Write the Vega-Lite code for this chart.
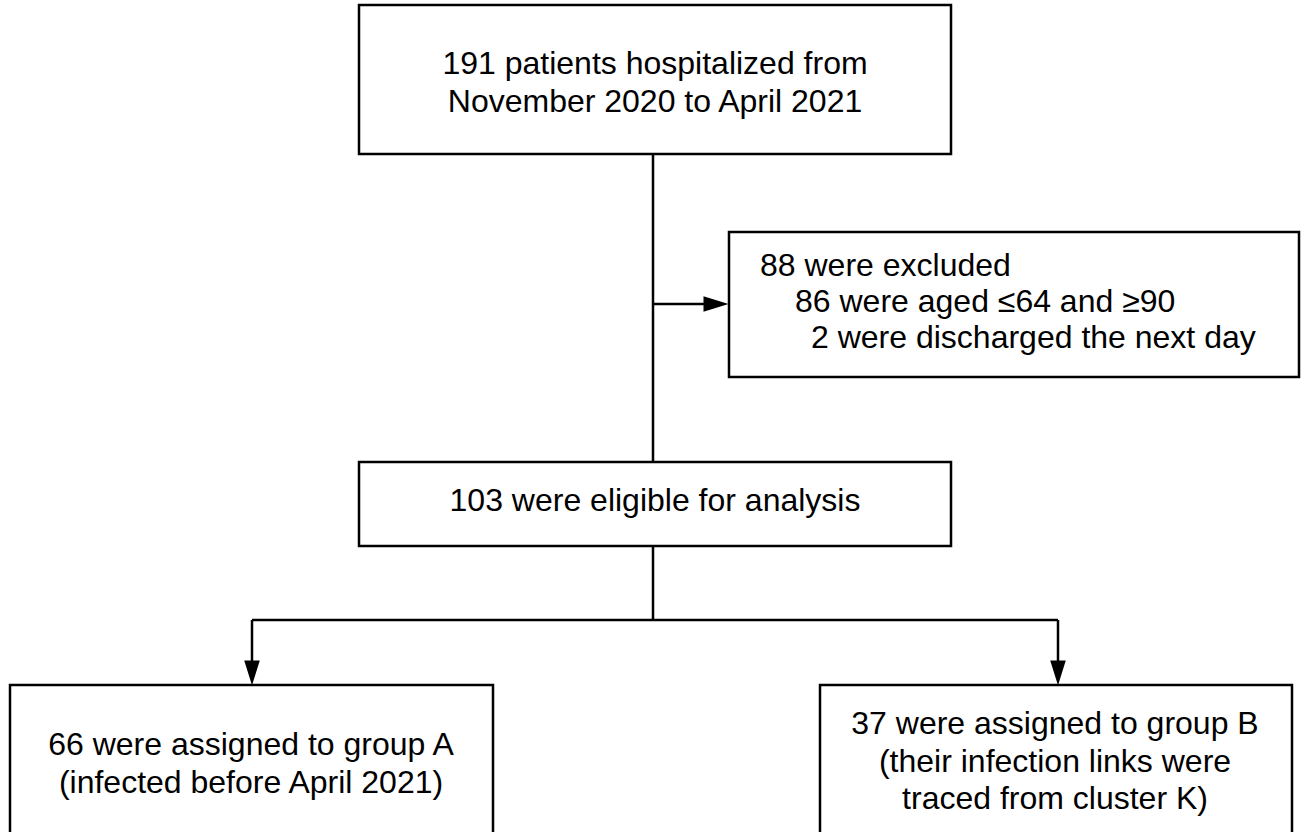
{
  "$schema": "https://vega.github.io/schema/vega-lite/v6.json",
  "width": 1301,
  "height": 832,
  "autosize": {"type": "none"},
  "padding": 0,
  "background": "white",
  "config": {"view": {"stroke": null}},
  "datasets": {
    "boxes": [
      {"x": 359, "x2": 951, "y": 5, "y2": 154},
      {"x": 729, "x2": 1299, "y": 232, "y2": 377},
      {"x": 359, "x2": 951, "y": 462, "y2": 546},
      {"x": 10, "x2": 493, "y": 685, "y2": 845},
      {"x": 820, "x2": 1292, "y": 685, "y2": 845}
    ],
    "lines": [
      {"x": 653, "x2": 653, "y": 154, "y2": 462},
      {"x": 653, "x2": 706, "y": 304, "y2": 304},
      {"x": 653, "x2": 653, "y": 546, "y2": 620},
      {"x": 252, "x2": 1058, "y": 620, "y2": 620},
      {"x": 252, "x2": 252, "y": 620, "y2": 662},
      {"x": 1058, "x2": 1058, "y": 620, "y2": 662}
    ],
    "rightArrows": [{"x": 716, "y": 304}],
    "downArrows": [{"x": 252, "y": 673}, {"x": 1058, "y": 673}],
    "centerText": [
      {"x": 655, "y": 74, "label": ["191 patients hospitalized from", "November 2020 to April 2021"]},
      {"x": 655, "y": 511, "label": ["103 were eligible for analysis"]},
      {"x": 251, "y": 755, "label": ["66 were assigned to group A", "(infected before April 2021)"]},
      {"x": 1055, "y": 734, "label": ["37 were assigned to group B", "(their infection links were", "traced from cluster K)"]}
    ],
    "leftText": [
      {"x": 760, "y": 276, "label": "88 were excluded"},
      {"x": 795, "y": 312, "label": "86 were aged ≤64 and ≥90"},
      {"x": 811, "y": 348, "label": "2 were discharged the next day"}
    ]
  },
  "encoding": {
    "x": {"field": "x", "type": "quantitative", "scale": {"domain": [0, 1301], "nice": false, "zero": false}, "axis": null},
    "y": {"field": "y", "type": "quantitative", "scale": {"domain": [0, 832], "reverse": true, "nice": false, "zero": false}, "axis": null}
  },
  "layer": [
    {
      "data": {"name": "boxes"},
      "mark": {"type": "rect", "fill": "white", "stroke": "black", "strokeWidth": 2.5, "clip": true},
      "encoding": {"x2": {"field": "x2"}, "y2": {"field": "y2"}}
    },
    {
      "data": {"name": "lines"},
      "mark": {"type": "rule", "stroke": "black", "strokeWidth": 2.5},
      "encoding": {"x2": {"field": "x2"}, "y2": {"field": "y2"}}
    },
    {
      "data": {"name": "rightArrows"},
      "mark": {"type": "point", "shape": "M -1 -0.62 L 1 0 L -1 0.62 Z", "size": 625, "filled": true, "color": "black", "opacity": 1, "strokeWidth": 0}
    },
    {
      "data": {"name": "downArrows"},
      "mark": {"type": "point", "shape": "M -0.62 -1 L 0.62 -1 L 0 1 Z", "size": 625, "filled": true, "color": "black", "opacity": 1, "strokeWidth": 0}
    },
    {
      "data": {"name": "centerText"},
      "mark": {"type": "text", "font": "Liberation Sans", "fontSize": 32, "lineHeight": 37.5, "align": "center", "baseline": "alphabetic", "color": "black"},
      "encoding": {"text": {"field": "label"}}
    },
    {
      "data": {"name": "leftText"},
      "mark": {"type": "text", "font": "Liberation Sans", "fontSize": 32, "align": "left", "baseline": "alphabetic", "color": "black"},
      "encoding": {"text": {"field": "label"}}
    }
  ]
}
